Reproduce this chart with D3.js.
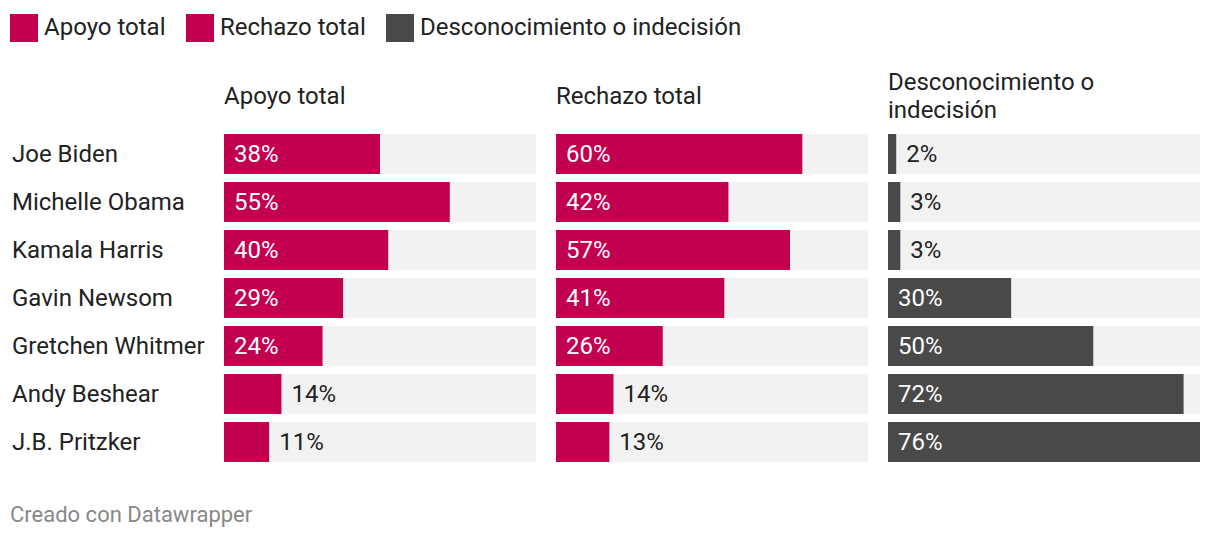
<!DOCTYPE html>
<html><head><meta charset="utf-8">
<script src="https://cdn.jsdelivr.net/npm/d3@7"></script>
<style>body{margin:0;background:#fff;font-family:Roboto,sans-serif;}</style>
</head><body>
<svg id="c" width="1220" height="540"></svg>
<script>
const names = ["Joe Biden","Michelle Obama","Kamala Harris","Gavin Newsom","Gretchen Whitmer","Andy Beshear","J.B. Pritzker"];
const apoyo = [38,55,40,29,24,14,11];
const rechazo = [60,42,57,41,26,14,13];
const descon = [2,3,3,30,50,72,76];
const seriesNames = ["Apoyo total","Rechazo total","Desconocimiento o indecisión"];
const headerLines = [["Apoyo total"],["Rechazo total"],["Desconocimiento o","indecisión"]];
const colors = ["#c2004f","#c2004f","#494949"];

const svg = d3.select("#c");
const series = [apoyo, rechazo, descon];
const maxV = d3.max(series.flat());
const panelW = 312, gap = 20;
const px = i => 224 + i*(panelW+gap);
const x = d3.scaleLinear().domain([0, maxV]).range([0, panelW]);
const y = d3.scaleBand().domain(names).range([134, 134+48*7-8]).paddingInner(8/48).paddingOuter(0);
const FS = 24;

// legend
const legX = [10,186,386];
seriesNames.forEach((s,i)=>{
  svg.append("rect").attr("x",legX[i]).attr("y",14).attr("width",28).attr("height",28).attr("fill",colors[i]);
  svg.append("text").attr("x",legX[i]+34).attr("y",35).attr("font-size",FS).attr("fill","#222").text(s);
});

// row labels
names.forEach(n=>{
  svg.append("text").attr("x",12).attr("y",y(n)+y.bandwidth()/2+8).attr("font-size",FS).attr("fill","#222").text(n);
});

series.forEach((vals,i)=>{
  const g = svg.append("g").attr("transform",`translate(${px(i)},0)`);
  const lines = headerLines[i];
  lines.forEach((l,j)=>{
    g.append("text").attr("x",0).attr("y",lines.length===1?104:90+j*28).attr("font-size",FS).attr("fill","#222").text(l);
  });
  names.forEach((n,k)=>{
    const v = vals[k];
    g.append("rect").attr("x",0).attr("y",y(n)).attr("width",panelW).attr("height",y.bandwidth()).attr("fill","#f2f2f2");
    g.append("rect").attr("x",0).attr("y",y(n)).attr("width",x(v)).attr("height",y.bandwidth()).attr("fill",colors[i]);
    const inside = x(v) > 70;
    g.append("text").attr("x",inside?10:x(v)+10).attr("y",y(n)+y.bandwidth()/2+8)
      .attr("font-size",FS).attr("fill",inside?"#fff":"#222").text(v+"%");
  });
});

svg.append("text").attr("x",10).attr("y",522).attr("font-size",22).attr("fill","#888").text("Creado con Datawrapper");
</script>
</body></html>
